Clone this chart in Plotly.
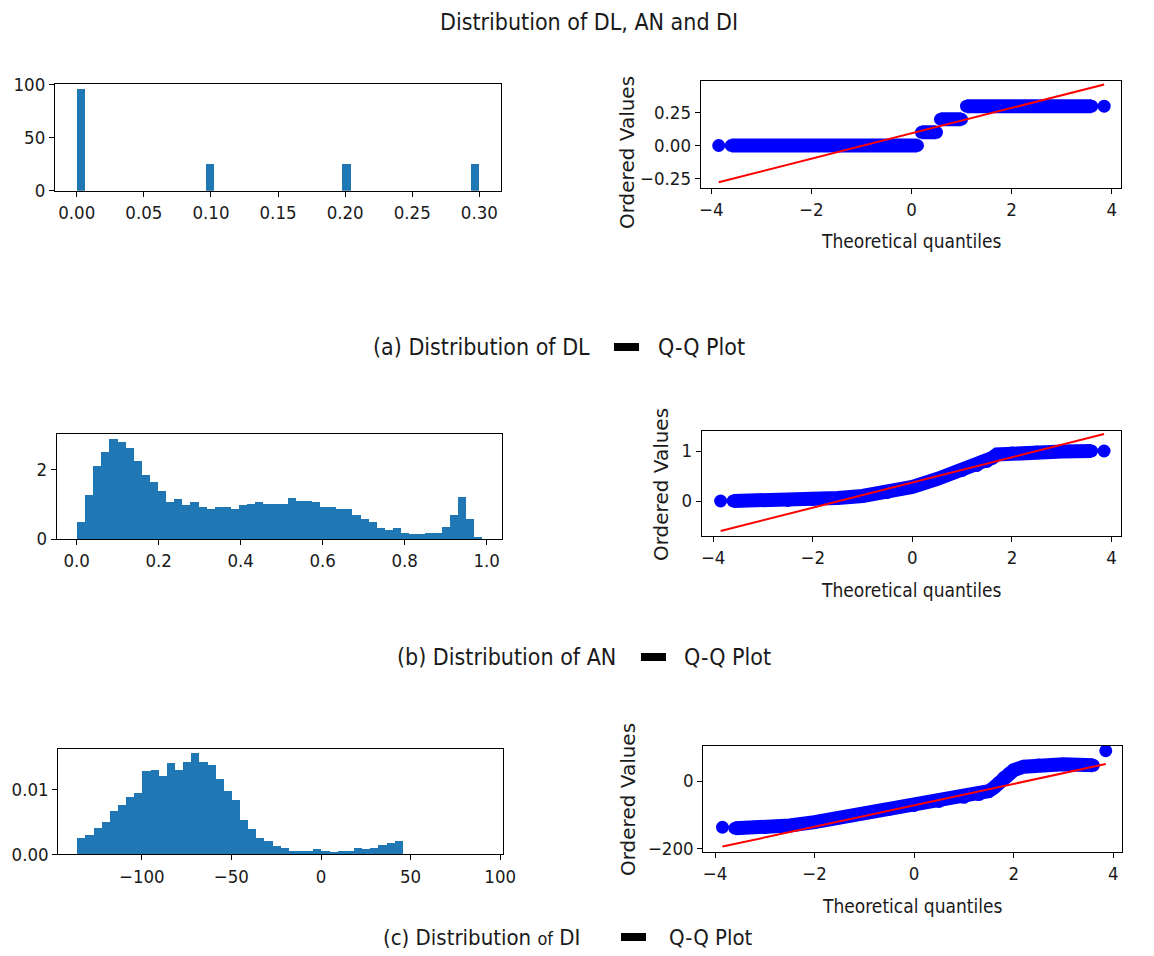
import plotly.graph_objects as go

# ---------------- data ----------------
# (a) DL histogram (density), bins of width 0.006
dl_bin_left = [0.0, 0.096, 0.198, 0.294]
dl_bin_width = 0.006
dl_density = [95.3, 24.8, 24.8, 24.8]

# (b) AN histogram (density), 50 bins starting at 0.0
an_bin_start = 0.0
an_bin_width = 0.01976
an_density = [0.48, 1.27, 2.10, 2.50, 2.89, 2.78, 2.62, 2.23, 1.85, 1.63,
              1.37, 1.05, 1.14, 0.97, 1.05, 0.91, 0.87, 0.91, 0.91, 0.87,
              0.97, 1.01, 1.05, 1.01, 1.01, 1.01, 1.18, 1.10, 1.10, 1.05,
              0.91, 0.91, 0.87, 0.87, 0.70, 0.57, 0.48, 0.31, 0.27, 0.31,
              0.17, 0.13, 0.13, 0.17, 0.17, 0.34, 0.70, 1.22, 0.57, 0.04]

# (c) DI histogram (density), bins starting at -135.8
di_bin_start = -135.8
di_bin_width = 4.54
di_density = [0.00241, 0.00287, 0.00405, 0.00492, 0.00662, 0.00754, 0.00872, 0.00944,
              0.01272, 0.01292, 0.01200, 0.01395, 0.01292, 0.01415, 0.01554, 0.01415,
              0.01364, 0.01154, 0.00969, 0.00826, 0.00523, 0.00385, 0.00241, 0.00195,
              0.00123, 0.00097, 0.00051, 0.00051, 0.00051, 0.00077, 0.00051, 0.00031,
              0.00051, 0.00051, 0.00097, 0.00077, 0.00097, 0.00144, 0.00169, 0.00195]

# Q-Q plots: theoretical quantiles vs ordered values
qq_dl_x = [-3.85, None, -3.6, 0.12, None, 0.2, 0.5, None, 0.58, 1.0, None, 1.1, 3.6, None, 3.85]
qq_dl_y = [0.0, None, 0.0, 0.0, None, 0.1, 0.1, None, 0.2, 0.2, None, 0.3, 0.3, None, 0.3]
fit_dl_x = [-3.85, 3.85]
fit_dl_y = [-0.28, 0.465]

qq_an_x = [-3.85, None, -3.6, -3.0, -2.5, -2.0, -1.5, -1.0, -0.5, 0.0, 0.5, 1.0, 1.3, 1.5, 1.6, 1.7, 2.0, 2.5, 3.0, 3.6, None, 3.85]
qq_an_y = [0.0, None, 0.0, 0.005, 0.01, 0.03, 0.06, 0.10, 0.17, 0.28, 0.44, 0.61, 0.71, 0.79, 0.86, 0.93, 0.96, 0.98, 0.99, 1.0, None, 1.0]
fit_an_x = [-3.85, 3.85]
fit_an_y = [-0.6, 1.34]

qq_di_x = [-3.85, None, -3.6, -3.0, -2.5, -2.0, -1.5, -1.0, -0.5, 0.0, 0.5, 1.0, 1.3, 1.5, 1.6, 1.7, 1.8, 1.9, 2.0, 2.2, 2.5, 3.0, 3.6, None, 3.85]
qq_di_y = [-136, None, -139, -137, -131, -121, -108, -95, -83, -72, -60, -48, -40, -30, -20, -5, 10, 22, 32, 42, 47, 49, 46, None, 89]
fit_di_x = [-3.85, 3.85]
fit_di_y = [-193, 50]

# ---------------- layout helpers ----------------
W, H = 1154, 956
HIST_COLOR = "#1f77b4"
FONT = "DejaVu Sans Condensed, DejaVu Sans, sans-serif"
TXT = "#1a1a1a"


def px(x):
    return x / W


def py(y):
    return 1 - y / H


def dom_x(a, b):
    return [px(a), px(b)]


def dom_y(top, bottom):
    return [py(bottom), py(top)]


fig = go.Figure()


def centers(start, width, n):
    return [start + width * (i + 0.5) for i in range(n)]


# histograms
fig.add_trace(go.Bar(x=[l + dl_bin_width / 2 for l in dl_bin_left], y=dl_density,
                     width=[dl_bin_width] * len(dl_density), marker=dict(color=HIST_COLOR, line=dict(width=0)),
                     xaxis="x", yaxis="y", showlegend=False))
fig.add_trace(go.Bar(x=centers(an_bin_start, an_bin_width, len(an_density)), y=an_density,
                     width=[an_bin_width] * len(an_density), marker=dict(color=HIST_COLOR, line=dict(width=0)),
                     xaxis="x3", yaxis="y3", showlegend=False))
fig.add_trace(go.Bar(x=centers(di_bin_start, di_bin_width, len(di_density)), y=di_density,
                     width=[di_bin_width] * len(di_density), marker=dict(color=HIST_COLOR, line=dict(width=0)),
                     xaxis="x5", yaxis="y5", showlegend=False))

# Q-Q
for qx, qy, fx, fy, xa, ya in [(qq_dl_x, qq_dl_y, fit_dl_x, fit_dl_y, "x2", "y2"),
                               (qq_an_x, qq_an_y, fit_an_x, fit_an_y, "x4", "y4"),
                               (qq_di_x, qq_di_y, fit_di_x, fit_di_y, "x6", "y6")]:
    fig.add_trace(go.Scatter(x=qx, y=qy, mode="lines+markers", connectgaps=False,
                             line=dict(color="#0000ff", width=14),
                             marker=dict(color="#0000ff", size=13, line=dict(width=0)),
                             xaxis=xa, yaxis=ya, showlegend=False))
    fig.add_trace(go.Scatter(x=fx, y=fy, mode="lines", line=dict(color="#ff0000", width=2),
                             xaxis=xa, yaxis=ya, showlegend=False))

axis_common = dict(showline=True, mirror=True, linecolor="black", linewidth=1,
                   ticks="outside", ticklen=5, tickcolor="black", showgrid=False, zeroline=False,
                   automargin=False,
                   tickfont=dict(family=FONT, size=18.5, color=TXT))

layout = dict(
    width=W, height=H, margin=dict(l=0, r=0, t=0, b=0, autoexpand=False),
    paper_bgcolor="white", plot_bgcolor="white", bargap=0,
    font=dict(family=FONT, size=18, color=TXT),
)

# panel positions (pixels)
panels = {
    1: dict(x=(55, 500.7), y=(84, 190.7)),
    2: dict(x=(700.7, 1120.7), y=(80.7, 187.7)),
    3: dict(x=(56.7, 501.7), y=(434, 539)),
    4: dict(x=(701.7, 1121), y=(431, 536)),
    5: dict(x=(58.3, 502.7), y=(749.3, 854.3)),
    6: dict(x=(703.3, 1121.7), y=(746, 851.7)),
}

xcfg = {
    1: dict(range=[-0.0162, 0.3159], tickvals=[0, 0.05, 0.1, 0.15, 0.2, 0.25, 0.3], tickformat=".2f"),
    2: dict(range=[-4.21, 4.18], tickvals=[-4, -2, 0, 2, 4]),
    3: dict(range=[-0.0488, 1.0366], tickvals=[0, 0.2, 0.4, 0.6, 0.8, 1.0], tickformat=".1f"),
    4: dict(range=[-4.23, 4.19], tickvals=[-4, -2, 0, 2, 4]),
    5: dict(range=[-146.6, 101.4], tickvals=[-100, -50, 0, 50, 100]),
    6: dict(range=[-4.235, 4.17], tickvals=[-4, -2, 0, 2, 4]),
}
ycfg = {
    1: dict(range=[0, 100.1], tickvals=[0, 50, 100]),
    2: dict(range=[-0.322, 0.494], tickvals=[-0.25, 0, 0.25], tickformat=".2f"),
    3: dict(range=[0, 3.02], tickvals=[0, 2]),
    4: dict(range=[-0.7, 1.4], tickvals=[0, 1]),
    5: dict(range=[0, 0.01615], tickvals=[0, 0.01], tickformat=".2f"),
    6: dict(range=[-208, 103], tickvals=[-200, 0]),
}

for i, p in panels.items():
    sx = "" if i == 1 else str(i)
    layout["xaxis" + sx] = dict(axis_common, domain=dom_x(*p["x"]), anchor="y" + sx, **xcfg[i])
    layout["yaxis" + sx] = dict(axis_common, domain=dom_y(*p["y"]), anchor="x" + sx, **ycfg[i])

fig.update_layout(**layout)

annotations = []


def ann(text, x, y, size, xanchor="center", angle=0, family=FONT):
    annotations.append(dict(text=text, x=px(x), y=py(y), xref="paper", yref="paper",
                            xanchor=xanchor, yanchor="middle", showarrow=False, textangle=angle,
                            font=dict(family=family, size=size, color=TXT)))


ann("Distribution of DL, AN and DI", 589, 22, 23)

# axis titles for Q-Q plots
for xc, yc in [(911, 241), (911, 590), (912, 906)]:
    ann("Theoretical quantiles", xc, yc, 19)
for xc, yc in [(627, 153), (661, 485), (628, 800)]:
    ann("Ordered Values", xc, yc, 20, angle=-90, family="DejaVu Sans, sans-serif")

# captions
ann("(a) Distribution of DL", 371, 347, 23, xanchor="left")
ann("Q-Q Plot", 656, 347, 23, xanchor="left")
ann("(b) Distribution of AN", 395, 657, 23, xanchor="left")
ann("Q-Q Plot", 682, 657, 23, xanchor="left")
ann("(c) Distribution <span style='font-size:18px'>of</span> DI", 381, 937, 22, xanchor="left")
ann("Q-Q Plot", 667, 937, 22, xanchor="left")

shapes = []
for x0, x1, yc in [(614, 639, 347), (641, 666, 657), (621, 646, 937)]:
    shapes.append(dict(type="line", xref="paper", yref="paper", x0=px(x0), x1=px(x1),
                       y0=py(yc), y1=py(yc), line=dict(color="black", width=8)))

fig.update_layout(annotations=annotations, shapes=shapes)

fig.write_html("out.html")
